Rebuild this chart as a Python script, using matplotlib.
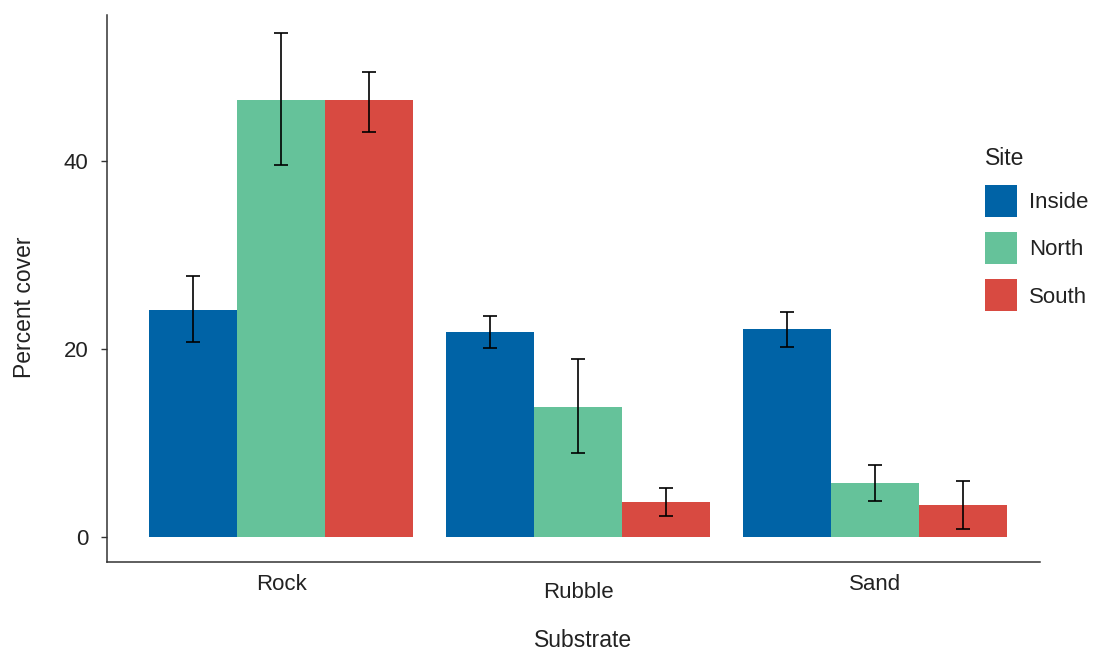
import numpy as np
import matplotlib
matplotlib.use('Agg')
import matplotlib.pyplot as plt

# data
substrates = ['Rock', 'Rubble', 'Sand']
sites = ['Inside', 'North', 'South']
means = {
    'Inside': [24.1, 21.8, 22.1],
    'North': [46.5, 13.8, 5.7],
    'South': [46.5, 3.7, 3.4],
}
lower = {
    'Inside': [20.7, 20.1, 20.2],
    'North': [39.5, 8.9, 3.8],
    'South': [43.1, 2.2, 0.85],
}
upper = {
    'Inside': [27.8, 23.5, 23.9],
    'North': [53.6, 18.9, 7.7],
    'South': [49.4, 5.2, 6.0],
}
colors = {'Inside': '#0063a6', 'North': '#65c29a', 'South': '#d84a41'}

plt.rcParams['font.family'] = ['Liberation Sans', 'DejaVu Sans']
txt = '#222222'

fig = plt.figure(figsize=(10.93, 6.51), dpi=100)
ax = fig.add_axes([107 / 1093, 1 - 562 / 651, (1040 - 107) / 1093, (562 - 15) / 651])

x = np.arange(len(substrates))
width = 0.297
for i, site in enumerate(sites):
    pos = x + (i - 1) * width
    m = np.array(means[site])
    err = [m - np.array(lower[site]), np.array(upper[site]) - m]
    ax.bar(pos, m, width=width, color=colors[site], label=site, zorder=2)
    ax.errorbar(pos, m, yerr=err, fmt='none', ecolor='black', elinewidth=1.2,
                capsize=5, capthick=1.2, zorder=3)

ax.set_xlim(-0.586, 2.556)
ax.set_ylim(-2.66, 55.5)
ax.set_yticks([0, 20, 40])
ax.set_xticks(x)
ax.set_xticklabels(substrates)

for s in ['top', 'right']:
    ax.spines[s].set_visible(False)
for s in ['left', 'bottom']:
    ax.spines[s].set_color('#333333')
    ax.spines[s].set_linewidth(1.1)

ax.tick_params(axis='y', length=4.3, width=1.0, color='#333333', pad=9,
               labelsize=16, labelcolor=txt)
ax.tick_params(axis='x', length=0, pad=9, labelsize=16, labelcolor=txt)
# middle label sits a bit lower in the reference
ax.get_xticklabels()[1].set_y(-0.013)

ax.set_xlabel('Substrate', fontsize=16.5, color=txt, labelpad=19)
ax.xaxis.label.set_x(0.51)
ax.set_ylabel('Percent cover', fontsize=16.5, color=txt, labelpad=20)
ax.yaxis.label.set_y(0.466)

leg = ax.legend(title='Site', loc='upper left', bbox_to_anchor=(985 / 1093, 1 - 147 / 651),
                bbox_transform=fig.transFigure, frameon=False, fontsize=16,
                title_fontsize=16.5, alignment='left', borderpad=0, borderaxespad=0,
                handlelength=1.45, handleheight=1.84, labelspacing=0.68, handletextpad=0.55)
for t in leg.get_texts():
    t.set_color(txt)
leg.get_title().set_color(txt)

fig.savefig('out.png', dpi=100)
